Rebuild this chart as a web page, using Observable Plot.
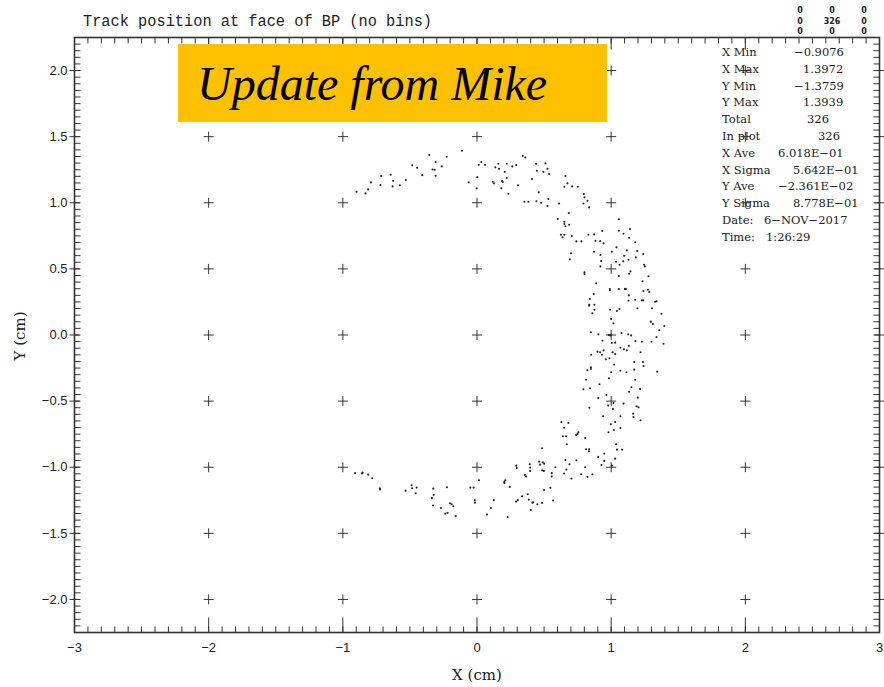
<!DOCTYPE html>
<html>
<head>
<meta charset="utf-8">
<script src="https://cdn.jsdelivr.net/npm/d3@7"></script>
<script src="https://cdn.jsdelivr.net/npm/@observablehq/plot@0.6"></script>
<style>
  html, body { margin: 0; padding: 0; background: #fff; }
  #chart { position: relative; width: 884px; height: 687px; }
</style>
</head>
<body>
<div id="chart"></div>
<script>
// Track hit positions (cm) at the face of BP, grouped by region of the ring.
const upperX = [-0.898,-0.831,-0.811,-0.791,-0.719,-0.714,-0.644,-0.625,-0.629,-0.575,
  -0.530,-0.483,-0.446,-0.408,-0.356,-0.308,-0.331,-0.308,-0.263,-0.226,
  -0.112,-0.062,0.002,-0.002,0.013,0.032,0.060,0.117,0.127,0.137,
  0.159,0.164,0.192,0.181,0.187,0.207,0.222,0.222,0.263,0.293,
  0.234,0.306,0.341,0.360,0.440,0.446,0.410,0.460,
  0.510,0.495,0.525,0.537,0.659,0.674,0.651,0.709,0.751,0.796,
  0.801,0.823,0.793,0.836,0.532,0.525,0.612,0.478,0.443,0.383,
  0.353,0.602,0.651,0.651,0.659,0.687,0.684,0.625,0.651,0.637,
  0.707,0.741,0.778,0.831,0.873,0.883,0.918,0.943,0.933,1.057,
  1.057,0.873,1.005,1.040,0.701,-0.316];
const upperY = [1.083,1.071,1.101,1.154,1.134,1.202,1.212,1.166,1.124,1.132,
  1.172,1.283,1.265,1.209,1.361,1.308,1.252,1.204,1.275,1.348,
  1.394,1.154,1.194,1.109,1.287,1.308,1.287,1.159,1.147,1.268,
  1.295,1.257,1.157,1.109,1.164,1.234,1.295,1.187,1.275,1.285,
  1.068,1.132,1.355,1.343,1.295,1.242,1.179,1.079,
  1.298,1.234,1.257,1.217,1.202,1.147,1.121,1.124,1.121,1.066,
  1.041,1.015,0.995,0.965,1.028,0.975,0.995,1.000,1.011,1.008,
  1.008,0.877,0.856,0.839,0.822,0.834,0.922,0.758,0.758,0.739,
  0.748,0.708,0.708,0.758,0.761,0.713,0.711,0.693,0.786,0.875,
  0.788,0.630,0.630,0.663,0.618,1.250];

const rightX = [1.092,1.140,1.134,1.179,0.920,1.117,1.194,1.239,0.692,0.925,
  0.920,1.037,1.062,1.090,1.097,1.129,1.184,1.246,1.251,1.144,
  1.134,0.801,0.801,1.057,1.278,1.234,0.888,0.990,0.990,1.057,
  1.102,1.110,1.241,1.274,1.284,0.871,1.132,1.129,1.179,1.229,
  1.239,1.328,1.338,0.841,0.836,0.836,0.875,0.875,0.860,0.993,
  1.043,1.062,1.196,1.304,1.375,1.000,1.017,1.296,1.311,1.397,
  1.358,0.849,0.905,0.983,0.998,1.077,1.127,1.149,1.338,
  1.390,1.301,1.229,1.181,0.935,1.005,1.030,1.132,1.069,1.095,
  1.117,0.943,0.898,0.918,1.010,1.030,0.851,0.931,1.219,0.960,
  0.987,1.172,1.237,1.241,1.022,0.849,0.849,0.823,1.000,1.069,
  1.114,1.172,1.343,0.983,0.813,1.179,0.913,1.151,1.216,0.793,
  0.843,1.134,0.965,0.903,1.017,1.199,1.092,0.978,1.189,1.204,
  1.013,0.838,1.164,1.166,0.940,1.069,1.219,1.030,0.998,0.629,
  0.681,0.649,1.069,1.020,0.756,0.749,0.739,0.980,0.640,0.664,
  0.806,0.669,1.037,0.813,0.836,0.834,1.043,1.082,0.948,0.903,
  1.030,1.103,0.992];
const rightY = [0.766,0.801,0.735,0.701,0.605,0.640,0.635,0.612,0.572,0.559,
  0.519,0.554,0.531,0.557,0.599,0.569,0.587,0.531,0.519,0.481,
  0.463,0.474,0.461,0.446,0.444,0.406,0.391,0.348,0.338,0.348,
  0.348,0.348,0.333,0.342,0.325,0.310,0.300,0.259,0.267,0.262,
  0.262,0.252,0.255,0.272,0.229,0.221,0.229,0.191,0.164,0.191,
  0.181,0.197,0.202,0.202,0.161,0.121,0.088,0.101,0.083,0.068,
  0.036,0.020,0.005,0.000,-0.002,0.015,0.005,-0.003,-0.015,
  -0.066,-0.051,-0.051,-0.045,-0.043,-0.060,-0.058,-0.081,-0.096,-0.108,
  -0.116,-0.116,-0.126,-0.131,-0.131,-0.144,-0.149,-0.149,-0.131,-0.184,
  -0.176,-0.204,-0.204,-0.234,-0.224,-0.244,-0.257,-0.267,-0.282,-0.270,
  -0.282,-0.262,-0.277,-0.327,-0.338,-0.338,-0.373,-0.395,-0.408,-0.410,
  -0.403,-0.429,-0.454,-0.476,-0.514,-0.474,-0.519,-0.534,-0.539,-0.547,
  -0.559,-0.550,-0.595,-0.620,-0.615,-0.615,-0.645,-0.658,-0.675,-0.658,
  -0.665,-0.701,-0.703,-0.718,-0.735,-0.748,-0.756,-0.735,-0.766,-0.766,
  -0.779,-0.826,-0.826,-0.864,-0.864,-0.879,-0.867,-0.867,-0.897,-0.922,
  -0.935,0.350,-0.004];

const lowerX = [-0.908,-0.858,-0.853,-0.811,-0.781,-0.724,-0.722,-0.532,-0.487,-0.483,
  -0.450,-0.457,-0.326,-0.323,-0.336,-0.328,-0.269,-0.224,-0.201,-0.189,
  -0.177,-0.237,-0.219,-0.159,-0.050,-0.025,-0.017,-0.015,0.015,0.075,
  0.104,0.125,0.204,0.211,0.244,0.229,0.291,0.304,0.336,0.378,
  0.386,0.401,0.413,0.420,0.450,0.485,0.500,0.547,0.567,0.293,
  0.296,0.356,0.366,0.393,0.396,0.396,0.463,0.490,0.500,0.470,
  0.485,0.498,0.485,0.557,0.557,0.584,0.649,0.659,0.689,0.666,
  0.704,0.741,0.776,0.806,0.823,0.860,0.928,0.948,1.005,0.204];
const lowerY = [-1.045,-1.048,-1.041,-1.056,-1.083,-1.159,-1.169,-1.177,-1.136,-1.159,
  -1.154,-1.197,-1.162,-1.209,-1.234,-1.290,-1.308,-1.151,-1.272,-1.280,
  -1.295,-1.351,-1.345,-1.370,-1.154,-1.154,-1.249,-1.268,-1.098,-1.358,
  -1.308,-1.249,-1.109,-1.098,-1.149,-1.376,-1.260,-1.249,-1.219,-1.204,
  -1.245,-1.323,-1.268,-1.265,-1.280,-1.270,-1.172,-1.156,-1.252,-0.988,
  -1.005,-1.058,-1.071,-0.977,-1.003,-1.028,-0.958,-0.962,-0.973,-0.980,
  -1.023,-1.028,-0.856,-1.045,-1.071,-1.000,-1.048,-0.945,-0.977,-1.018,
  -1.086,-0.947,-1.053,-1.000,-1.073,-1.053,-0.983,-0.952,-0.988,-1.119];

// Axis ticks and reference cross positions
const xTickValues = [-3, -2, -1, 0, 1, 2, 3];
const yTickValues = [-2.0, -1.5, -1.0, -0.5, 0.0, 0.5, 1.0, 1.5, 2.0];

// Summary statistics box
const statLabels = ["X Min", "X Max", "Y Min", "Y Max", "Total", "In plot",
  "X Ave", "X Sigma", "Y Ave", "Y Sigma", "Date:", "Time:"];
const statValues = ["\u22120.9076", "1.3972", "\u22121.3759", "1.3939", "326", "326",
  "6.018E\u221201", "5.642E\u221201", "\u22122.361E\u221202", "8.778E\u221201", "6\u2212NOV\u22122017", "1:26:29"];
const statValueLeft = [794, 803, 794, 803, 807, 818, 778, 793, 778, 793, 764, 766];

// Under/overflow counters (3 x 3)
const flowCounts = [["0", "0", "0"], ["0", "326", "0"], ["0", "0", "0"]];

const title = "Track position at face of BP (no bins)";
const banner = "Update from Mike";

// ---- layout ----
const W = 884, H = 687;
const margin = {left: 74, right: 5, top: 37, bottom: 55};
const xDomain = [-3, 3], yDomain = [-2.25, 2.25];
const ink = "#333";

const points = [
  ...upperX.map((x, i) => ({x, y: upperY[i]})),
  ...rightX.map((x, i) => ({x, y: rightY[i]})),
  ...lowerX.map((x, i) => ({x, y: lowerY[i]}))
];
const crosses = xTickValues.flatMap(x => yTickValues.map(y => ({x, y})));
const minorX = d3.range(-30, 31).map(i => i / 10);
const minorY = d3.range(-45, 46).map(i => i / 20);

// small stroked symbols measured in pixels
const seg = (dx, dy) => ({draw(c) { c.moveTo(0, 0); c.lineTo(dx, dy); }});
const plus = h => ({draw(c) { c.moveTo(-h, 0); c.lineTo(h, 0); c.moveTo(0, -h); c.lineTo(0, h); }});
const tickStyle = {fill: "none", stroke: ink, strokeWidth: 1};

const fmtX = d3.format("d");
const fmtY = d3.format(".1f");

const chart = Plot.plot({
  width: W, height: H,
  marginLeft: margin.left, marginRight: margin.right,
  marginTop: margin.top, marginBottom: margin.bottom,
  x: {domain: xDomain, axis: null},
  y: {domain: yDomain, axis: null},
  style: {background: "#fff"},
  marks: [
    // minor ticks on all four sides, pointing inward
    Plot.dot(minorX, {x: d => d, y: () => yDomain[0], symbol: seg(0, -6), ...tickStyle}),
    Plot.dot(minorX, {x: d => d, y: () => yDomain[1], symbol: seg(0, 6), ...tickStyle}),
    Plot.dot(minorY, {x: () => xDomain[0], y: d => d, symbol: seg(6, 0), ...tickStyle}),
    Plot.dot(minorY, {x: () => xDomain[1], y: d => d, symbol: seg(-6, 0), ...tickStyle}),
    // major ticks on x
    Plot.dot(xTickValues, {x: d => d, y: () => yDomain[0], symbol: seg(0, -15), ...tickStyle}),
    Plot.dot(xTickValues, {x: d => d, y: () => yDomain[1], symbol: seg(0, 12), ...tickStyle}),
    // reference crosses
    Plot.dot(crosses, {x: "x", y: "y", symbol: plus(5), ...tickStyle}),
    Plot.frame({stroke: ink, strokeWidth: 1.6}),
    // track positions
    Plot.dot(points, {x: "x", y: "y", r: 1.05, fill: "#222", stroke: "none"}),
    // tick labels
    Plot.text(xTickValues, {x: d => d, y: () => yDomain[0], text: d => fmtX(d), dy: 15,
      fontSize: 13, fontFamily: "Liberation Sans, sans-serif", fill: "#222"}),
    Plot.text(yTickValues, {x: () => xDomain[0], y: d => d, text: d => fmtY(d), dx: -7,
      textAnchor: "end", fontSize: 13, fontFamily: "Liberation Sans, sans-serif", fill: "#222"})
  ]
});

document.getElementById("chart").appendChild(chart);

// ---- annotations drawn into the same SVG ----
const svg = d3.select(chart);

svg.append("text")
  .attr("x", 83).attr("y", 26)
  .attr("text-anchor", "start")
  .attr("font-family", "Liberation Mono, monospace")
  .attr("font-size", 16)
  .attr("textLength", 349).attr("lengthAdjust", "spacingAndGlyphs")
  .attr("fill", "#222")
  .text(title);

svg.append("text")
  .attr("x", 477).attr("y", 680)
  .attr("text-anchor", "middle")
  .attr("font-family", "DejaVu Serif, serif")
  .attr("font-size", 15)
  .attr("fill", "#222")
  .text("X (cm)");

svg.append("text")
  .attr("transform", "translate(25,336) rotate(-90)")
  .attr("text-anchor", "middle")
  .attr("font-family", "DejaVu Serif, serif")
  .attr("font-size", 15)
  .attr("fill", "#222")
  .text("Y (cm)");

// banner
svg.append("rect")
  .attr("x", 178).attr("y", 44).attr("width", 429).attr("height", 78)
  .attr("fill", "#FFC000");
svg.append("text")
  .attr("x", 197).attr("y", 100)
  .attr("text-anchor", "start")
  .attr("font-family", "Liberation Serif, serif")
  .attr("font-style", "italic")
  .attr("font-size", 48)
  .attr("fill", "#000")
  .text(banner);

// statistics box
const stats = svg.append("g")
  .attr("text-anchor", "start")
  .attr("font-family", "DejaVu Serif, serif")
  .attr("font-size", 11.5)
  .attr("fill", "#222");
statLabels.forEach((label, i) => {
  const y = 56 + i * 16.8;
  stats.append("text").attr("x", 722).attr("y", y).text(label);
  stats.append("text").attr("x", statValueLeft[i]).attr("y", y).text(statValues[i]);
});

// under/overflow counters
const counters = svg.append("g")
  .attr("font-family", "DejaVu Sans, sans-serif")
  .attr("font-size", 8)
  .attr("font-weight", "bold")
  .attr("text-anchor", "middle")
  .attr("fill", "#222");
flowCounts.forEach((row, r) => row.forEach((v, c) => {
  counters.append("text")
    .attr("x", 800 + c * 32).attr("y", 13 + r * 10.7)
    .text(v);
}));
</script>
</body>
</html>
